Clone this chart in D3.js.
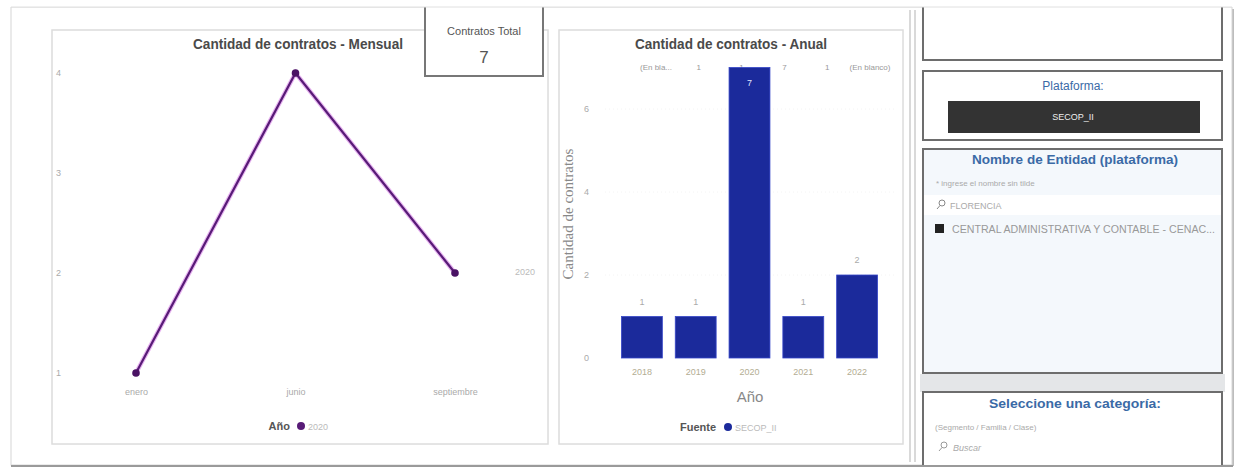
<!DOCTYPE html>
<html>
<head>
<meta charset="utf-8">
<script src="https://cdn.jsdelivr.net/npm/d3@7"></script>
<style>
  body { margin: 0; background: #fff; }
  text { font-family: "Liberation Sans", Arial, sans-serif; }
</style>
</head>
<body>
<div id="tablero"></div>
<script>
// datos
const meses = ['enero', 'junio', 'septiembre'];
const contratosMes = [1, 4, 2];
const ticksMes = [1, 2, 3, 4];

const anios = ['2018', '2019', '2020', '2021', '2022'];
const contratosAnio = [1, 1, 7, 1, 2];
const ticksAnio = [0, 2, 4, 6];
const filaSuperior = ['(En bla...', '1', '1', '7', '1', '(En blanco)'];

const contratosTotal = 7;
const plataforma = 'SECOP_II';
const entidadBusqueda = 'FLORENCIA';
const entidadSel = 'CENTRAL ADMINISTRATIVA Y CONTABLE - CENAC...';

var width = 1244, height = 472;

var svg = d3.select("#tablero").append("svg")
    .attr("width", width)
    .attr("height", height);

// marco exterior
svg.append("rect").attr("x", 12).attr("y", 9).attr("width", 1222).attr("height", 459)
    .style("fill", "#bdbdbd");
svg.append("rect").attr("x", 11).attr("y", 7).attr("width", 1221).attr("height", 458)
    .style("fill", "#fff").style("stroke", "#d6d6d6");

// ---------- panel mensual ----------
svg.append("rect").attr("x", 52).attr("y", 30).attr("width", 496).attr("height", 414)
    .style("fill", "#fff").style("stroke", "#dcdcdc").style("stroke-width", 1.5);

svg.append("text")
    .attr("x", 298).attr("y", 49)
    .attr("text-anchor", "middle")
    .attr("textLength", 210).attr("lengthAdjust", "spacingAndGlyphs")
    .style("font-size", "14px").style("font-weight", "bold").style("fill", "#4a4a4a")
    .text("Cantidad de contratos - Mensual");

let xMes = d3.scalePoint().domain(meses).range([136, 455]);
let yMes = d3.scaleLinear().domain([1, 4]).range([373, 73]);

let ejeYMes = svg.append("g").attr("transform", "translate(64,0)")
    .call(d3.axisLeft(yMes).tickValues(ticksMes).tickSize(0).tickFormat(d3.format("d")));
ejeYMes.select(".domain").remove();
ejeYMes.selectAll("text").style("fill", "#aaa").style("font-size", "9px");

let ejeXMes = svg.append("g").attr("transform", "translate(0,386)")
    .call(d3.axisBottom(xMes).tickSize(0));
ejeXMes.select(".domain").remove();
ejeXMes.selectAll("text").style("fill", "#aaa").style("font-size", "9px");

let serieMes = meses.map((m, i) => ({ mes: m, valor: contratosMes[i] }));

let linea = d3.line()
    .x(d => xMes(d.mes))
    .y(d => yMes(d.valor));

svg.append("path").datum(serieMes)
    .attr("d", linea)
    .style("fill", "none").style("stroke", "#e7b4f0").style("stroke-width", 4.5);
svg.append("path").datum(serieMes)
    .attr("d", linea)
    .style("fill", "none").style("stroke", "#581b77").style("stroke-width", 2.2);

svg.selectAll(".puntoMes").data(serieMes).enter()
    .append("circle")
    .attr("class", "puntoMes")
    .attr("cx", d => xMes(d.mes))
    .attr("cy", d => yMes(d.valor))
    .attr("r", 3.8)
    .style("fill", "#4a1264");

// leyenda mensual
svg.append("text").attr("x", 290).attr("y", 430).attr("text-anchor", "end")
    .style("font-size", "11px").style("font-weight", "bold").style("fill", "#555").text("Año");
svg.append("circle").attr("cx", 301).attr("cy", 426).attr("r", 4).style("fill", "#581b77");
svg.append("text").attr("x", 308).attr("y", 430)
    .style("font-size", "9px").style("fill", "#bbb").text("2020");

// etiqueta suelta
svg.append("text").attr("x", 525).attr("y", 275).attr("text-anchor", "middle")
    .style("font-size", "9px").style("fill", "#bbb").text("2020");

// tarjeta total
svg.append("rect").attr("x", 425).attr("y", -4).attr("width", 118).attr("height", 80)
    .style("fill", "#fff").style("stroke", "#777").style("stroke-width", 2);
svg.append("text").attr("x", 484).attr("y", 35).attr("text-anchor", "middle")
    .style("font-size", "11px").style("fill", "#555").text("Contratos Total");
svg.append("text").attr("x", 484).attr("y", 63).attr("text-anchor", "middle")
    .style("font-size", "17px").style("fill", "#555").text(contratosTotal);

// ---------- panel anual ----------
svg.append("rect").attr("x", 559).attr("y", 30).attr("width", 344).attr("height", 414)
    .style("fill", "#fff").style("stroke", "#dcdcdc").style("stroke-width", 1.5);

svg.append("text")
    .attr("x", 731).attr("y", 49)
    .attr("text-anchor", "middle")
    .attr("textLength", 192).attr("lengthAdjust", "spacingAndGlyphs")
    .style("font-size", "14px").style("font-weight", "bold").style("fill", "#4a4a4a")
    .text("Cantidad de contratos - Anual");

let xAnio = d3.scaleBand().domain(anios).range([615, 884]).paddingInner(0.24).paddingOuter(0.12);
let yAnio = d3.scaleLinear().domain([0, 7]).range([358, 67.5]);

let xFila = d3.scalePoint().domain(d3.range(filaSuperior.length)).range([656, 870]);
svg.selectAll(".fila").data(filaSuperior).enter()
    .append("text")
    .attr("class", "fila")
    .attr("x", (d, i) => xFila(i))
    .attr("y", 70)
    .attr("text-anchor", "middle")
    .style("font-size", "8px").style("fill", "#999")
    .text(d => d);

let ejeYAnio = svg.append("g").attr("transform", "translate(592,0)")
    .call(d3.axisLeft(yAnio).tickValues(ticksAnio).tickSize(0).tickFormat(d3.format("d")));
ejeYAnio.select(".domain").remove();
ejeYAnio.selectAll("text").style("fill", "#aaa").style("font-size", "9px");

svg.append("g").selectAll("line").data(ticksAnio.slice(1)).enter()
    .append("line")
    .attr("x1", 605).attr("x2", 895)
    .attr("y1", d => yAnio(d)).attr("y2", d => yAnio(d))
    .style("stroke", "#f4f4f4").style("stroke-dasharray", "1,3");

svg.selectAll(".barra").data(anios).enter()
    .append("rect")
    .attr("class", "barra")
    .attr("x", d => xAnio(d))
    .attr("y", (d, i) => yAnio(contratosAnio[i]))
    .attr("width", xAnio.bandwidth())
    .attr("height", (d, i) => yAnio(0) - yAnio(contratosAnio[i]))
    .style("fill", "#1b2a9b")
    .style("stroke", "#3646c8").style("stroke-width", 0.8);

svg.selectAll(".valorBarra").data(anios).enter()
    .append("text")
    .attr("class", "valorBarra")
    .attr("x", d => xAnio(d) + xAnio.bandwidth() / 2)
    .attr("y", (d, i) => contratosAnio[i] > 5 ? yAnio(contratosAnio[i]) + 18 : yAnio(contratosAnio[i]) - 12)
    .attr("text-anchor", "middle")
    .style("font-size", "9px")
    .style("fill", (d, i) => contratosAnio[i] > 5 ? "#dfe4ff" : "#aaa")
    .text((d, i) => contratosAnio[i]);

let ejeXAnio = svg.append("g").attr("transform", "translate(0,366)")
    .call(d3.axisBottom(xAnio).tickSize(0));
ejeXAnio.select(".domain").remove();
ejeXAnio.selectAll("text").style("fill", "#b3ad93").style("font-size", "9px");

svg.append("text").attr("x", 750).attr("y", 402).attr("text-anchor", "middle")
    .style("font-size", "15px").style("fill", "#888").text("Año");

svg.append("text")
    .attr("transform", "translate(573,214) rotate(-90)")
    .attr("text-anchor", "middle")
    .style("font-family", "'Liberation Serif', serif")
    .style("font-size", "15px").style("fill", "#888")
    .text("Cantidad de contratos");

// leyenda anual
svg.append("text").attr("x", 716).attr("y", 431).attr("text-anchor", "end")
    .style("font-size", "11px").style("font-weight", "bold").style("fill", "#555").text("Fuente");
svg.append("circle").attr("cx", 728).attr("cy", 427).attr("r", 4).style("fill", "#1b2a9b");
svg.append("text").attr("x", 735).attr("y", 431)
    .style("font-size", "9px").style("fill", "#bbb").text(plataforma);

// ---------- columna de filtros ----------
svg.append("line").attr("x1", 910).attr("x2", 910).attr("y1", 10).attr("y2", 462)
    .style("stroke", "#ccc").style("stroke-width", 1.5);
svg.append("line").attr("x1", 915).attr("x2", 915).attr("y1", 10).attr("y2", 462)
    .style("stroke", "#ccc").style("stroke-width", 1.5);

function panel(y, h, fondo) {
    svg.append("rect").attr("x", 923).attr("y", y).attr("width", 299).attr("height", h)
        .style("fill", fondo).style("stroke", "#6d6d6d").style("stroke-width", 2);
}

panel(-10, 70, "#fff");

panel(71, 69, "#fff");
svg.append("text").attr("x", 1073).attr("y", 90).attr("text-anchor", "middle")
    .style("font-size", "12px").style("fill", "#3a6aa6").text("Plataforma:");
svg.append("rect").attr("x", 948).attr("y", 101).attr("width", 252).attr("height", 32)
    .style("fill", "#333");
svg.append("text").attr("x", 1073).attr("y", 120).attr("text-anchor", "middle")
    .style("font-size", "9px").style("fill", "#eee").text(plataforma);

svg.append("rect").attr("x", 920).attr("y", 374).attr("width", 305).attr("height", 18)
    .style("fill", "#e4e6e8");

panel(149, 224, "#f4f8fc");
svg.append("text").attr("x", 1075).attr("y", 164).attr("text-anchor", "middle")
    .attr("textLength", 206).attr("lengthAdjust", "spacingAndGlyphs")
    .style("font-size", "13px").style("font-weight", "bold").style("fill", "#3a6aa6")
    .text("Nombre de Entidad (plataforma)");
svg.append("text").attr("x", 936).attr("y", 186)
    .style("font-size", "8px").style("fill", "#aaa").text("* ingrese el nombre sin tilde");
svg.append("rect").attr("x", 924).attr("y", 195).attr("width", 297).attr("height", 20)
    .style("fill", "#fff");
svg.append("circle").attr("cx", 942).attr("cy", 203).attr("r", 3)
    .style("fill", "none").style("stroke", "#888");
svg.append("line").attr("x1", 940).attr("x2", 937).attr("y1", 205.5).attr("y2", 209)
    .style("stroke", "#888");
svg.append("text").attr("x", 950).attr("y", 209)
    .style("font-size", "9px").style("fill", "#aaa").text(entidadBusqueda);
svg.append("rect").attr("x", 935).attr("y", 224).attr("width", 9).attr("height", 9)
    .style("fill", "#222");
svg.append("text").attr("x", 952).attr("y", 233)
    .attr("textLength", 263).attr("lengthAdjust", "spacingAndGlyphs")
    .style("font-size", "10px").style("fill", "#999").text(entidadSel);

panel(392, 80, "#fff");
svg.append("text").attr("x", 1075).attr("y", 408).attr("text-anchor", "middle")
    .attr("textLength", 172).attr("lengthAdjust", "spacingAndGlyphs")
    .style("font-size", "13px").style("font-weight", "bold").style("fill", "#3a6aa6")
    .text("Seleccione una categoría:");
svg.append("text").attr("x", 935).attr("y", 430)
    .style("font-size", "8px").style("fill", "#aaa").text("(Segmento / Familia / Clase)");
svg.append("circle").attr("cx", 944).attr("cy", 445).attr("r", 3)
    .style("fill", "none").style("stroke", "#999");
svg.append("line").attr("x1", 942).attr("x2", 939).attr("y1", 447.5).attr("y2", 451)
    .style("stroke", "#999");
svg.append("text").attr("x", 953).attr("y", 451)
    .style("font-size", "9px").style("font-style", "italic").style("fill", "#aaa").text("Buscar");

// bordes del marco sobre los paneles de la derecha
svg.append("rect").attr("x", 0).attr("y", 0).attr("width", width).attr("height", 7).style("fill", "#fff");
svg.append("rect").attr("x", 0).attr("y", 466).attr("width", width).attr("height", 6).style("fill", "#fff");
svg.append("line").attr("x1", 11).attr("x2", 1233).attr("y1", 466).attr("y2", 466)
    .style("stroke", "#9a9a9a").style("stroke-width", 2);
svg.append("line").attr("x1", 11).attr("x2", 1232).attr("y1", 7).attr("y2", 7)
    .style("stroke", "#e0e0e0");
</script>
</body>
</html>
